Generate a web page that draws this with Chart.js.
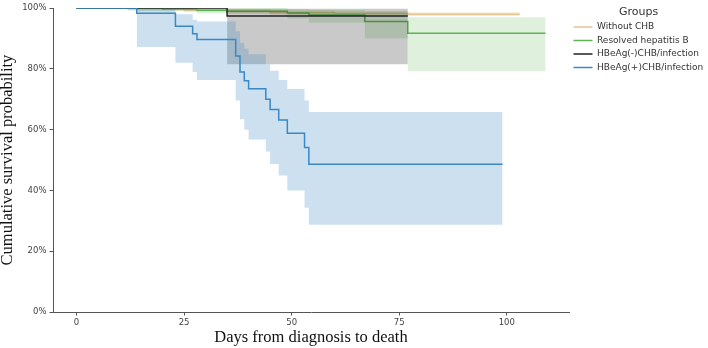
<!DOCTYPE html>
<html><head><meta charset="utf-8">
<script src="https://cdn.jsdelivr.net/npm/chart.js@4/dist/chart.umd.min.js"></script>
<style>html,body{margin:0;padding:0;background:#fff}</style>
</head><body>
<canvas id="c" width="708" height="348"></canvas>
<script>
// ---- tick labels ----
const xTickValues = [0, 25, 50, 75, 100];
const yTickValues = [0, 20, 40, 60, 80, 100];

// ---- group names (legend order) ----
const groupNames = ['Without CHB', 'Resolved hepatitis B', 'HBeAg(-)CHB/infection', 'HBeAg(+)CHB/infection'];

// ---- Without CHB ----
const tanTimes = [0, 12, 25, 35, 45, 60, 77, 103];
const tanSurv  = [100, 99.7, 99.4, 99.0, 98.5, 98.2, 98.0, 98.0];
const tanBandTimes = [12, 25, 35, 45, 60, 77, 103];
const tanUpper = [100, 99.9, 99.6, 99.2, 98.9, 98.6, 98.6];
const tanLower = [99.1, 98.7, 98.2, 97.8, 97.5, 97.4, 97.4];

// ---- Resolved hepatitis B ----
const greenTimes = [0, 20, 28, 35, 49, 54, 67, 77, 109];
const greenSurv  = [100, 99.6, 99.3, 99.0, 98.4, 97.7, 95.6, 91.7, 91.7];
const greenBandTimes = [14, 28, 49, 54, 67, 77, 109];
const greenUpper = [100, 100, 99.6, 99.4, 99.0, 97.0, 97.0];
const greenLower = [99.0, 98.2, 96.6, 95.2, 90.0, 79.2, 79.2];

// ---- HBeAg(-)CHB/infection ----
const blackTimes = [0, 35, 77];
const blackSurv  = [100, 97.4, 97.4];
const blackBandTimes = [35, 77];
const blackUpper = [99.8, 99.8];
const blackLower = [81.5, 81.5];

// ---- HBeAg(+)CHB/infection ----
const blueTimes = [0, 14, 23, 27, 28, 37, 38, 39, 40, 44, 45, 47, 49, 53, 54, 99];
const blueSurv  = [100, 98.3, 94.0, 91.6, 89.7, 84.2, 79.0, 76.1, 73.5, 70.0, 66.6, 63.2, 58.8, 54.1, 48.6, 48.6];
const blueBandTimes = [14, 23, 27, 28, 37, 38, 39, 40, 44, 45, 47, 49, 53, 54, 99];
const blueUpper = [99.8, 98.0, 96.2, 95.6, 92.4, 88.6, 86.6, 84.8, 81.5, 79.4, 76.3, 73.4, 69.6, 65.8, 65.8];
const blueLower = [87.2, 82.0, 79.0, 76.3, 69.6, 63.4, 60.0, 56.8, 52.8, 48.7, 44.9, 40.0, 34.3, 28.7, 28.7];

const pts = (xs, ys) => xs.map((x, i) => ({x: x, y: ys[i]}));

function group(name, color, band, t, s, bt, up, lo) {
  return [
    {label: name, data: pts(t, s), borderColor: color, backgroundColor: color, borderWidth: 1.5,
     stepped: true, pointRadius: 0, fill: false},
    {label: name + ' upper', isBand: true, data: pts(bt, up), borderWidth: 0, borderColor: 'rgba(0,0,0,0)',
     backgroundColor: band, stepped: true, pointRadius: 0, fill: '+1'},
    {label: name + ' lower', isBand: true, data: pts(bt, lo), borderWidth: 0, borderColor: 'rgba(0,0,0,0)',
     stepped: true, pointRadius: 0, fill: false}
  ];
}

const datasets = [].concat(
  group(groupNames[3], '#3a89c6', 'rgba(58,137,198,0.26)', blueTimes, blueSurv, blueBandTimes, blueUpper, blueLower),
  group(groupNames[2], '#222222', 'rgba(0,0,0,0.21)', blackTimes, blackSurv, blackBandTimes, blackUpper, blackLower),
  group(groupNames[1], '#5db451', 'rgba(93,180,81,0.2)', greenTimes, greenSurv, greenBandTimes, greenUpper, greenLower),
  group(groupNames[0], '#e3c594', 'rgba(227,197,148,0.35)', tanTimes, tanSurv, tanBandTimes, tanUpper, tanLower)
);

Chart.defaults.font.family = 'DejaVu Sans';
Chart.defaults.color = '#444';

new Chart(document.getElementById('c'), {
  type: 'line',
  data: {datasets: datasets},
  options: {
    responsive: false,
    animation: false,
    devicePixelRatio: 1,
    layout: {padding: {top: 5, left: 0, right: 0, bottom: 0}},
    plugins: {
      tooltip: {enabled: false},
      legend: {
        position: 'right',
        align: 'start',
        maxWidth: 139,
        title: {display: true, text: 'Groups', color: '#333',
                font: {size: 11, family: 'DejaVu Sans', lineHeight: 1}, padding: {top: 2, bottom: 0}},
        labels: {
          usePointStyle: true, pointStyle: 'line', pointStyleWidth: 19,
          padding: 4.5, color: '#333', font: {size: 9, family: 'DejaVu Sans'},
          filter: (item, data) => !data.datasets[item.datasetIndex].isBand,
          sort: (a, b) => b.datasetIndex - a.datasetIndex
        }
      }
    },
    scales: {
      x: {
        type: 'linear', min: -5.45, max: 114.45,
        afterBuildTicks: s => { s.ticks = xTickValues.map(v => ({value: v})); },
        afterFit: s => { s.height = 36; },
        grid: {display: true, drawOnChartArea: false, drawTicks: true, tickLength: 3.5, tickColor: '#555'},
        border: {display: true, color: '#555', width: 1},
        ticks: {font: {size: 8.5}, color: '#444', padding: 2.5, maxRotation: 0},
        title: {display: true, text: 'Days from diagnosis to death', color: '#111',
                font: {family: 'Liberation Serif', size: 16.5, lineHeight: 1}, padding: {top: 0, bottom: 2.5}}
      },
      y: {
        type: 'linear', min: 0, max: 100,
        afterBuildTicks: s => { s.ticks = yTickValues.map(v => ({value: v})); },
        afterFit: s => { s.width = 53; },
        grid: {display: true, drawOnChartArea: false, drawTicks: true, tickLength: 3.5, tickColor: '#555'},
        border: {display: true, color: '#555', width: 1},
        ticks: {font: {size: 8.5}, color: '#444', padding: 3, callback: v => v + '%'},
        title: {display: true, text: 'Cumulative survival probability', color: '#111',
                font: {family: 'Liberation Serif', size: 16.5, lineHeight: 0.9}, padding: {top: 0, bottom: 0}}
      }
    }
  }
});
</script>
</body></html>
